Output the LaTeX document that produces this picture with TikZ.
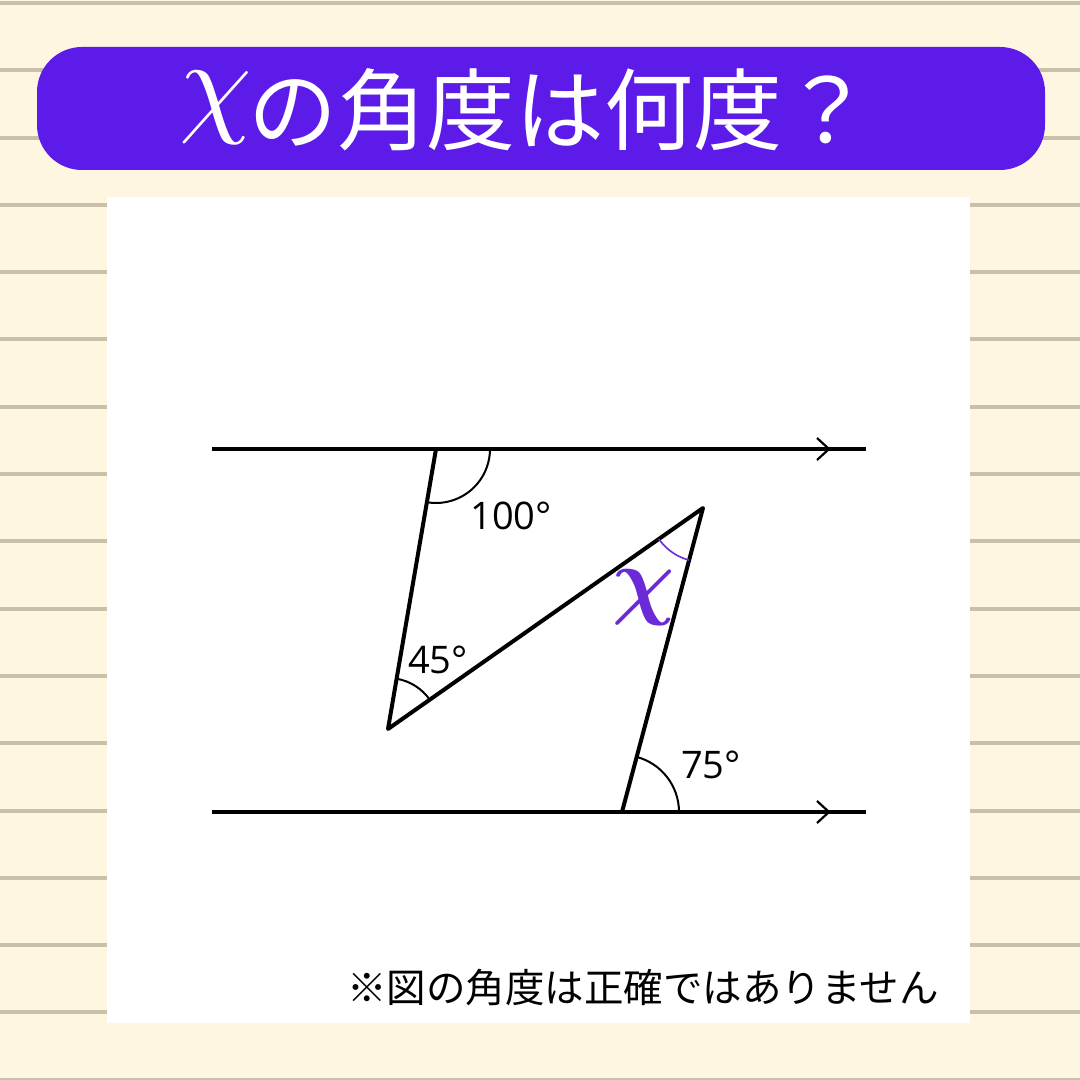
\documentclass[tikz,border=0pt]{standalone}
\usepackage{graphicx}
\usepackage{bm}
\usepackage{fontspec}
\setmainfont{Open Sans}
\newfontfamily\jpfont{Noto Sans CJK JP}
\usetikzlibrary{arrows.meta}
\usetikzlibrary{angles,calc}
\definecolor{bgcream}{HTML}{FFF6E2}
\definecolor{stripe}{HTML}{C9C0AA}
\definecolor{bannerpurple}{HTML}{5C1BE8}
\definecolor{chipurple}{HTML}{6A2AD6}

\begin{document}
\begin{tikzpicture}[x=1pt,y=1pt,line join=round,
    edge/.style={line width=4pt},
    arcmark/.style={draw,line width=2pt,angle eccentricity=1},
    deglabel/.style={inner sep=0pt,font=\fontsize{38}{38}\selectfont}]
    \useasboundingbox (0,0) rectangle (1080,1080);

		% background
		\fill[bgcream] (0,0) rectangle (1080,1080);
		\foreach \k in {0,...,16}
		  \fill[stripe] (0,{1075-67.3*\k}) rectangle (1080,{1079-67.3*\k});
		\fill[white] (107,57) rectangle (970,883);
		\fill[bannerpurple,rounded corners=45pt] (37,910) rectangle (1045,1033);

		% title
		\node (ttlchi) [anchor=center,inner sep=0pt,text=white] at (216,972)
		  {\scalebox{11.6}{$\chi$}};
		\node (ttl) [anchor=base west,inner sep=0pt,text=white] at (248,936)
		  {\fontsize{89}{89}\jpfont の角度は何度？};

		\coordinate (a) at (436,631);
		\coordinate (b) at (388,351);
		\coordinate (c) at (703,572);
		\coordinate (d) at (622,268);
		\coordinate (al) at (212,631);
		\coordinate (ar) at (866,631);
		\coordinate (dl) at (212,268);
		\coordinate (dr) at (866,268);
		\coordinate (ta) at (829,631);
		\coordinate (td) at (829,268);

		\draw [edge] (al) -- (ar) ; %平行線
		\draw [edge] (dl) -- (dr) ;
		\draw [line width=2.2pt] ($ (ta)+(-12,11) $) -- (ta) -- ($ (ta)+(-12,-11) $);
		\draw [line width=2.2pt] ($ (td)+(-12,11) $) -- (td) -- ($ (td)+(-12,-11) $);

		\draw [edge] (a) -- (b) -- (c) -- (d) ;

		\draw pic [arcmark,angle radius=54pt] {angle = b--a--ar}; %角度
		\draw pic [arcmark,angle radius=51pt] {angle = c--b--a};
		\draw pic [arcmark,angle radius=57pt] {angle = dr--d--c};
		\draw pic [arcmark,draw=chipurple,line width=1.6pt,angle radius=54pt] {angle = b--c--d};

		\node (l100) [deglabel] at (511,564) {100°};
		\node (l45) [deglabel] at (438,420) {45°};
		\node (l75) [deglabel] at (711,315) {75°};
		\node (chi) [inner sep=0pt,text=chipurple] at (644,482)
		  {\scalebox{8.7}{$\bm{\chi}$}};

		% note
		\node (note) [inner sep=0pt] at (643,92)
		  {\fontsize{39.5}{39.5}\jpfont ※図の角度は正確ではありません};
\end{tikzpicture}
\end{document}
